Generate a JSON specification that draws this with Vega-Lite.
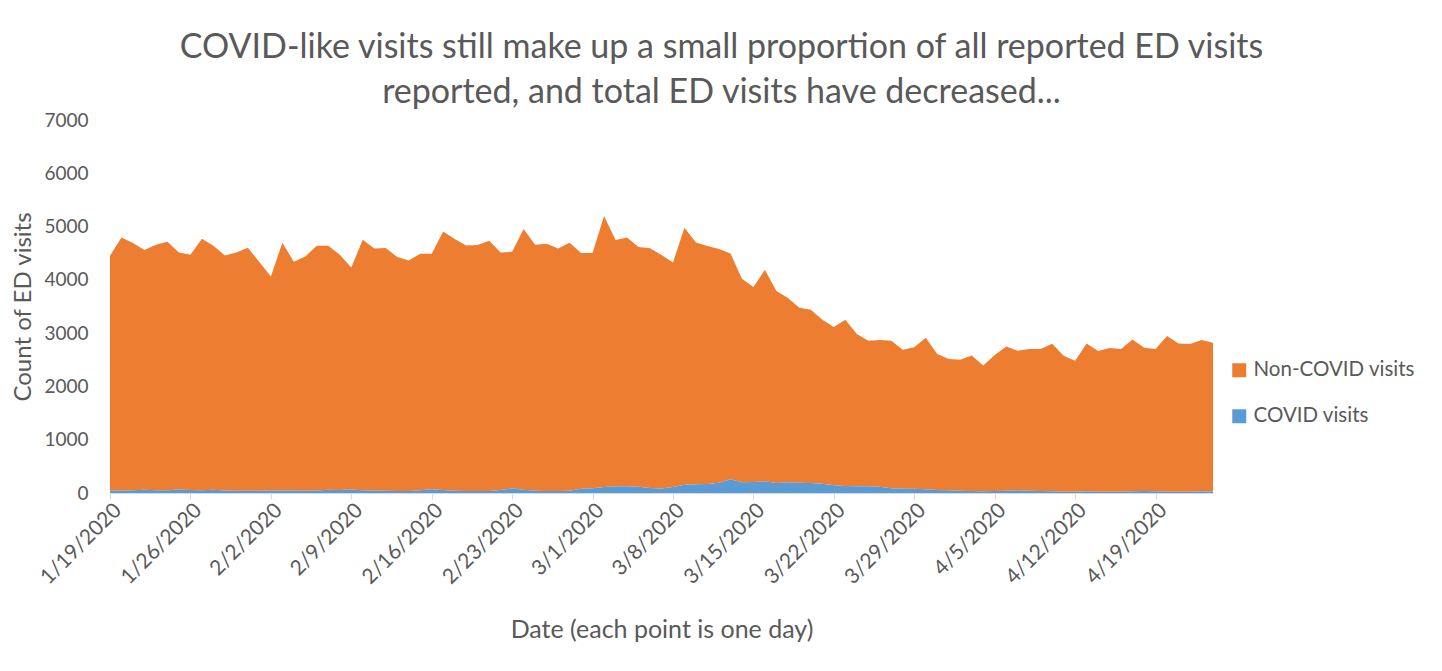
{
  "$schema": "https://vega.github.io/schema/vega-lite/v6.json",
  "autosize": {"type": "none"},
  "padding": {"left": 110, "top": 120, "right": 229, "bottom": 178},
  "width": 1103,
  "height": 373,
  "background": "white",
  "config": {
    "font": "Lato",
    "view": {"stroke": null}
  },
  "title": {
    "text": ["COVID-like visits still make up a small proportion of all reported ED visits", "reported, and total ED visits have decreased..."],
    "fontSize": 34,
    "fontWeight": "normal",
    "color": "#595959",
    "font": "Lato",
    "lineHeight": 45,
    "anchor": "middle",
    "dx": 60,
    "offset": 1
  },
  "data": {
    "values": [
      {"d": "2020-01-19", "covid": 45, "noncovid": 4407},
      {"d": "2020-01-20", "covid": 48, "noncovid": 4747},
      {"d": "2020-01-21", "covid": 50, "noncovid": 4640},
      {"d": "2020-01-22", "covid": 62, "noncovid": 4497},
      {"d": "2020-01-23", "covid": 50, "noncovid": 4608},
      {"d": "2020-01-24", "covid": 52, "noncovid": 4663},
      {"d": "2020-01-25", "covid": 65, "noncovid": 4449},
      {"d": "2020-01-26", "covid": 55, "noncovid": 4416},
      {"d": "2020-01-27", "covid": 50, "noncovid": 4721},
      {"d": "2020-01-28", "covid": 60, "noncovid": 4580},
      {"d": "2020-01-29", "covid": 45, "noncovid": 4413},
      {"d": "2020-01-30", "covid": 40, "noncovid": 4474},
      {"d": "2020-01-31", "covid": 40, "noncovid": 4562},
      {"d": "2020-02-01", "covid": 42, "noncovid": 4292},
      {"d": "2020-02-02", "covid": 45, "noncovid": 4019},
      {"d": "2020-02-03", "covid": 48, "noncovid": 4648},
      {"d": "2020-02-04", "covid": 45, "noncovid": 4295},
      {"d": "2020-02-05", "covid": 42, "noncovid": 4397},
      {"d": "2020-02-06", "covid": 48, "noncovid": 4592},
      {"d": "2020-02-07", "covid": 62, "noncovid": 4578},
      {"d": "2020-02-08", "covid": 55, "noncovid": 4416},
      {"d": "2020-02-09", "covid": 66, "noncovid": 4167},
      {"d": "2020-02-10", "covid": 52, "noncovid": 4700},
      {"d": "2020-02-11", "covid": 48, "noncovid": 4541},
      {"d": "2020-02-12", "covid": 44, "noncovid": 4553},
      {"d": "2020-02-13", "covid": 38, "noncovid": 4390},
      {"d": "2020-02-14", "covid": 38, "noncovid": 4326},
      {"d": "2020-02-15", "covid": 50, "noncovid": 4440},
      {"d": "2020-02-16", "covid": 69, "noncovid": 4421},
      {"d": "2020-02-17", "covid": 56, "noncovid": 4853},
      {"d": "2020-02-18", "covid": 44, "noncovid": 4721},
      {"d": "2020-02-19", "covid": 38, "noncovid": 4608},
      {"d": "2020-02-20", "covid": 38, "noncovid": 4614},
      {"d": "2020-02-21", "covid": 38, "noncovid": 4696},
      {"d": "2020-02-22", "covid": 56, "noncovid": 4458},
      {"d": "2020-02-23", "covid": 88, "noncovid": 4439},
      {"d": "2020-02-24", "covid": 62, "noncovid": 4891},
      {"d": "2020-02-25", "covid": 44, "noncovid": 4614},
      {"d": "2020-02-26", "covid": 38, "noncovid": 4639},
      {"d": "2020-02-27", "covid": 38, "noncovid": 4551},
      {"d": "2020-02-28", "covid": 44, "noncovid": 4652},
      {"d": "2020-02-29", "covid": 81, "noncovid": 4422},
      {"d": "2020-03-01", "covid": 88, "noncovid": 4415},
      {"d": "2020-03-02", "covid": 112, "noncovid": 5085},
      {"d": "2020-03-03", "covid": 125, "noncovid": 4621},
      {"d": "2020-03-04", "covid": 125, "noncovid": 4671},
      {"d": "2020-03-05", "covid": 119, "noncovid": 4496},
      {"d": "2020-03-06", "covid": 94, "noncovid": 4501},
      {"d": "2020-03-07", "covid": 85, "noncovid": 4380},
      {"d": "2020-03-08", "covid": 112, "noncovid": 4215},
      {"d": "2020-03-09", "covid": 156, "noncovid": 4821},
      {"d": "2020-03-10", "covid": 162, "noncovid": 4540},
      {"d": "2020-03-11", "covid": 169, "noncovid": 4465},
      {"d": "2020-03-12", "covid": 194, "noncovid": 4383},
      {"d": "2020-03-13", "covid": 256, "noncovid": 4240},
      {"d": "2020-03-14", "covid": 200, "noncovid": 3821},
      {"d": "2020-03-15", "covid": 206, "noncovid": 3659},
      {"d": "2020-03-16", "covid": 219, "noncovid": 3970},
      {"d": "2020-03-17", "covid": 188, "noncovid": 3602},
      {"d": "2020-03-18", "covid": 200, "noncovid": 3458},
      {"d": "2020-03-19", "covid": 194, "noncovid": 3283},
      {"d": "2020-03-20", "covid": 188, "noncovid": 3251},
      {"d": "2020-03-21", "covid": 175, "noncovid": 3076},
      {"d": "2020-03-22", "covid": 144, "noncovid": 2970},
      {"d": "2020-03-23", "covid": 131, "noncovid": 3120},
      {"d": "2020-03-24", "covid": 125, "noncovid": 2858},
      {"d": "2020-03-25", "covid": 125, "noncovid": 2732},
      {"d": "2020-03-26", "covid": 119, "noncovid": 2751},
      {"d": "2020-03-27", "covid": 88, "noncovid": 2769},
      {"d": "2020-03-28", "covid": 81, "noncovid": 2609},
      {"d": "2020-03-29", "covid": 81, "noncovid": 2655},
      {"d": "2020-03-30", "covid": 69, "noncovid": 2845},
      {"d": "2020-03-31", "covid": 56, "noncovid": 2552},
      {"d": "2020-04-01", "covid": 50, "noncovid": 2464},
      {"d": "2020-04-02", "covid": 44, "noncovid": 2457},
      {"d": "2020-04-03", "covid": 38, "noncovid": 2544},
      {"d": "2020-04-04", "covid": 31, "noncovid": 2363},
      {"d": "2020-04-05", "covid": 38, "noncovid": 2551},
      {"d": "2020-04-06", "covid": 44, "noncovid": 2706},
      {"d": "2020-04-07", "covid": 50, "noncovid": 2620},
      {"d": "2020-04-08", "covid": 44, "noncovid": 2658},
      {"d": "2020-04-09", "covid": 38, "noncovid": 2664},
      {"d": "2020-04-10", "covid": 31, "noncovid": 2770},
      {"d": "2020-04-11", "covid": 25, "noncovid": 2551},
      {"d": "2020-04-12", "covid": 25, "noncovid": 2457},
      {"d": "2020-04-13", "covid": 31, "noncovid": 2776},
      {"d": "2020-04-14", "covid": 25, "noncovid": 2639},
      {"d": "2020-04-15", "covid": 25, "noncovid": 2695},
      {"d": "2020-04-16", "covid": 25, "noncovid": 2677},
      {"d": "2020-04-17", "covid": 31, "noncovid": 2851},
      {"d": "2020-04-18", "covid": 38, "noncovid": 2688},
      {"d": "2020-04-19", "covid": 31, "noncovid": 2671},
      {"d": "2020-04-20", "covid": 25, "noncovid": 2920},
      {"d": "2020-04-21", "covid": 25, "noncovid": 2782},
      {"d": "2020-04-22", "covid": 25, "noncovid": 2770},
      {"d": "2020-04-23", "covid": 31, "noncovid": 2839},
      {"d": "2020-04-24", "covid": 25, "noncovid": 2795}
    ]
  },
  "transform": [
    {"fold": ["noncovid", "covid"], "as": ["series", "visits"]}
  ],
  "mark": {"type": "area", "interpolate": "linear"},
  "encoding": {
    "x": {
      "field": "d",
      "type": "temporal",
      "scale": {"type": "utc", "nice": false},
      "axis": {
        "title": "Date (each point is one day)",
        "titleFontSize": 25,
        "titleFontWeight": "normal",
        "titleColor": "#595959",
        "titlePadding": 30,
        "values": [
          {"year": 2020, "month": 1, "date": 19, "utc": true},
          {"year": 2020, "month": 1, "date": 26, "utc": true},
          {"year": 2020, "month": 2, "date": 2, "utc": true},
          {"year": 2020, "month": 2, "date": 9, "utc": true},
          {"year": 2020, "month": 2, "date": 16, "utc": true},
          {"year": 2020, "month": 2, "date": 23, "utc": true},
          {"year": 2020, "month": 3, "date": 1, "utc": true},
          {"year": 2020, "month": 3, "date": 8, "utc": true},
          {"year": 2020, "month": 3, "date": 15, "utc": true},
          {"year": 2020, "month": 3, "date": 22, "utc": true},
          {"year": 2020, "month": 3, "date": 29, "utc": true},
          {"year": 2020, "month": 4, "date": 5, "utc": true},
          {"year": 2020, "month": 4, "date": 12, "utc": true},
          {"year": 2020, "month": 4, "date": 19, "utc": true}
        ],
        "labelExpr": "utcFormat(datum.value, '%-m/%-d/%Y')",
        "labelAngle": -45,
        "labelFontSize": 21,
        "labelColor": "#595959",
        "labelPadding": 0,
        "labelDx": -8,
        "labelDy": -3,
        "labelOverlap": false,
        "tickColor": "#d9d9d9",
        "tickSize": 6,
        "domainColor": "#d9d9d9",
        "grid": false
      }
    },
    "y": {
      "field": "visits",
      "type": "quantitative",
      "stack": "zero",
      "scale": {"domain": [0, 7000], "nice": false},
      "axis": {
        "title": "Count of ED visits",
        "titleFontSize": 24,
        "titleFontWeight": "normal",
        "titleColor": "#595959",
        "titlePadding": 8,
        "values": [0, 1000, 2000, 3000, 4000, 5000, 6000, 7000],
        "format": "d",
        "labelFontSize": 19,
        "labelColor": "#595959",
        "labelPadding": 22,
        "ticks": false,
        "domain": false,
        "grid": false
      }
    },
    "color": {
      "field": "series",
      "type": "nominal",
      "scale": {"domain": ["noncovid", "covid"], "range": ["#ED7D31", "#5B9BD5"]},
      "legend": {
        "title": null,
        "orient": "none",
        "legendX": 1119,
        "legendY": 240,
        "padding": 0,
        "symbolType": "square",
        "symbolSize": 196,
        "symbolStrokeWidth": 0,
        "symbolOpacity": 1,
        "labelFontSize": 20.5,
        "labelLimit": 300,
        "labelColor": "#595959",
        "labelOffset": 4,
        "rowPadding": 25,
        "labelExpr": "datum.label == 'noncovid' ? 'Non-COVID visits' : 'COVID visits'"
      }
    },
    "order": {"field": "series", "sort": "ascending"}
  }
}
